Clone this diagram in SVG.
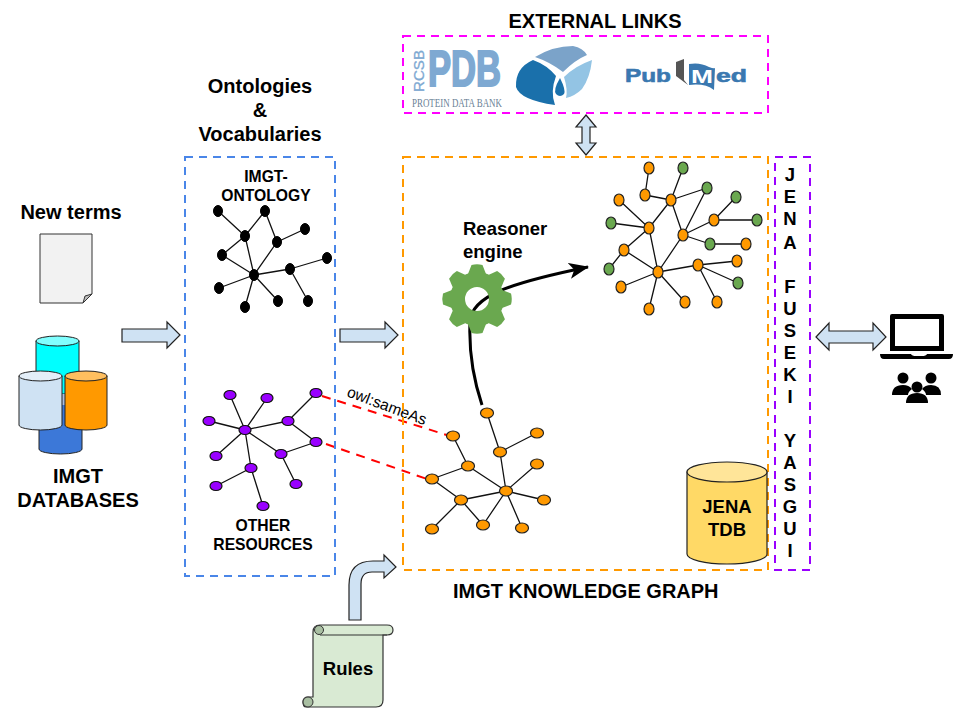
<svg xmlns="http://www.w3.org/2000/svg" width="960" height="720" viewBox="0 0 960 720" xmlns:xlink="http://www.w3.org/1999/xlink">
<style>
text{font-family:"Liberation Sans",Arial,sans-serif;fill:#000}
.b{font-weight:bold;font-size:20px}
.c{font-weight:bold;font-size:18.5px}
.m{text-anchor:middle}
.s{font-weight:bold;font-size:15.7px;text-anchor:middle}
.box{fill:none;stroke-width:2;stroke-dasharray:8 6}
.e{stroke:#111;stroke-width:1.3;fill:none}
.k{fill:#000;stroke:#000;stroke-width:1}
.p{fill:#9900ff;stroke:#111;stroke-width:1.2}
.o{fill:#ff9900;stroke:#222;stroke-width:1.2}
.g{fill:#6aa84f;stroke:#222;stroke-width:1.2}
.ar{fill:#cfe2f3;stroke:#222;stroke-width:1.2}
.gear{fill:#6aa84f}
.pdb{fill:#7ea9d2;stroke:#7ea9d2}
.pm{fill:#3a78b0;stroke:#3a78b0;stroke-width:.6}
</style>
<defs>
<marker id="tip" markerUnits="userSpaceOnUse" markerWidth="22" markerHeight="18" refX="19" refY="8" orient="auto">
<path d="M0,0 L20,8 L0,16 L5,8Z" fill="#000"/>
</marker>
<path id="tooth" d="M-9,-25 L-5.5,-34 Q0,-35.5 5.5,-34 L9,-25Z"/>
</defs>

<g id="connectors">
<g class="e">
<path d="M218,211L245,236M265,211L277,242M245,236L265,211M245,236L222,255M245,236L254,275M277,242L305,229M277,242L254,275M222,255L254,275M290,269L327,258M290,269L254,275M290,269L308,301M254,275L219,288M254,275L245,307M254,275L278,301"/>
<path d="M230,395L245,430M267,398L245,430M316,393L288,421M209,421L245,430M288,421L245,430M288,421L316,442M316,442L281,454M281,454L245,430M281,454L296,484M216,456L245,430M251,468L245,430M251,468L216,486M251,468L263,506"/>
<path d="M487,413L500,452M537,433L500,452M500,452L506,491M453,436L468,466M468,466L432,479M468,466L506,491M432,479L461,500M461,500L506,491M461,500L432,529M461,500L483,525M483,525L506,491M506,491L537,464M506,491L544,500M506,491L522,528"/>
<path d="M649,168L645,195M645,195L671,200M683,168L671,200M671,200L707,188M707,188L683,235M671,200L649,228M671,200L683,235M619,200L649,228M611,223L649,228M649,228L624,250M649,228L658,272M624,250L609,269M624,250L658,272M683,235L658,272M683,235L714,220M714,220L736,197M714,220L757,220M683,235L710,244M710,244L746,244M658,272L621,287M658,272L649,309M658,272L685,302M658,272L698,265M698,265L737,261M698,265L738,283M698,265L717,302"/>
</g>
<path d="M322,396L450,436M326,444L427,479" fill="none" stroke="#ff0000" stroke-width="2" stroke-dasharray="9 7"/>
<path d="M482,405C471,372 469,345 470,322C471,296 510,283 588,267" fill="none" stroke="#000" stroke-width="3" marker-end="url(#tip)"/>
<path class="ar" d="M122,329H167V322L180,335L167,348V342H122Z"/>
<path class="ar" d="M340,329H385V322L398,335L385,348V342H340Z"/>
<path class="ar" d="M586,115L596,127H590V143H596L586,155L576,143H582V127H576Z"/>
<path class="ar" d="M816,337L829,323V331H873V323L886,337L873,350V343H829V350Z"/>
<path class="ar" d="M349,620V585Q349,561 373,561H384V555L396,567L384,578V572H372Q361,572 361,584V620Z"/>
</g>

<g id="external-links">
<rect class="box" x="403" y="36" width="365" height="77" stroke="#ff00ff"/>
<text class="b m" x="595" y="28">EXTERNAL LINKS</text>
<g id="logo-pdb">
<text class="pdb" transform="translate(424 92) rotate(-90)" font-size="15" stroke-width=".3" textLength="42" lengthAdjust="spacingAndGlyphs">RCSB</text>
<text class="pdb" x="428" y="86" font-weight="bold" font-size="50" stroke-width="2" textLength="73" lengthAdjust="spacingAndGlyphs">PDB</text>
<text x="412" y="107" font-size="12" style="font-family:'Liberation Serif',serif;fill:#6a7f95" textLength="90" lengthAdjust="spacingAndGlyphs">PROTEIN DATA BANK</text>
</g>
<g id="logo-mid">
<path fill="#7ba3c9" d="M535,57Q553,46 573,46Q583,48 587,55Q575,60 563,72Q550,62 535,57Z"/>
<path fill="#1a70ab" d="M533,60Q515,68 516,87Q520,100 555,105Q550,92 556,76Q547,65 533,60Z"/>
<path fill="#93c4e4" d="M592,60Q590,78 582,89Q575,96 566,98Q568,90 564,77Q575,66 592,60Z"/>
<path fill="#1a70ab" d="M560,78Q553,90 556,94Q560,98 564,94Q566,90 560,78Z"/>
</g>
<g id="logo-pubmed">
<text class="pm" x="625" y="82" font-weight="bold" font-size="19" textLength="46" lengthAdjust="spacingAndGlyphs">Pub</text>
<path fill="#555" d="M676,62L684,59V80L688,85L676,76Z"/>
<path fill="#3a78b0" d="M689,64Q700,62 709,67Q714,69 715,68L714,90Q705,83 689,85Z"/>
<text x="691" y="83" font-weight="bold" font-size="19" style="fill:#fff" textLength="22" lengthAdjust="spacingAndGlyphs">M</text>
<text class="pm" x="716" y="82" font-weight="bold" font-size="19" textLength="31" lengthAdjust="spacingAndGlyphs">ed</text>
</g>
</g>

<g id="ontologies">
<rect class="box" x="185" y="157" width="150" height="419" stroke="#4a86e8"/>
<text class="b m" x="260" y="93">Ontologies</text>
<text class="b m" x="260" y="117">&amp;</text>
<text class="b m" x="260" y="141">Vocabularies</text>
</g>

<g id="imgt-ontology">
<text class="s" x="266" y="182">IMGT-</text>
<text class="s" x="266" y="201">ONTOLOGY</text>
<g class="k">
<ellipse cx="218" cy="211" rx="4.5" ry="5.5"/><ellipse cx="265" cy="211" rx="4.5" ry="5.5"/><ellipse cx="245" cy="236" rx="4.5" ry="5.5"/><ellipse cx="277" cy="242" rx="4.5" ry="5.5"/><ellipse cx="305" cy="229" rx="4.5" ry="5.5"/><ellipse cx="222" cy="255" rx="4.5" ry="5.5"/><ellipse cx="327" cy="258" rx="4.5" ry="5.5"/><ellipse cx="290" cy="269" rx="4.5" ry="5.5"/><ellipse cx="254" cy="275" rx="4.5" ry="5.5"/><ellipse cx="219" cy="288" rx="4.5" ry="5.5"/><ellipse cx="245" cy="307" rx="4.5" ry="5.5"/><ellipse cx="278" cy="301" rx="4.5" ry="5.5"/><ellipse cx="308" cy="301" rx="4.5" ry="5.5"/>
</g>
</g>

<g id="other-resources">
<text class="s" x="263" y="531">OTHER</text>
<text class="s" x="263" y="550">RESOURCES</text>
<g class="p">
<ellipse cx="230" cy="395" rx="6" ry="4.5"/><ellipse cx="267" cy="398" rx="6" ry="4.5"/><ellipse cx="316" cy="393" rx="6" ry="4.5"/><ellipse cx="209" cy="421" rx="6" ry="4.5"/><ellipse cx="288" cy="421" rx="6" ry="4.5"/><ellipse cx="245" cy="430" rx="6" ry="4.5"/><ellipse cx="316" cy="442" rx="6" ry="4.5"/><ellipse cx="281" cy="454" rx="6" ry="4.5"/><ellipse cx="216" cy="456" rx="6" ry="4.5"/><ellipse cx="251" cy="468" rx="6" ry="4.5"/><ellipse cx="216" cy="486" rx="6" ry="4.5"/><ellipse cx="296" cy="484" rx="6" ry="4.5"/><ellipse cx="263" cy="506" rx="6" ry="4.5"/>
</g>
</g>

<text transform="translate(346 396) rotate(20.5)" font-size="15.5">owl:sameAs</text>

<g id="knowledge-graph">
<rect class="box" x="403" y="157" width="365" height="413" stroke="#ff9900"/>
<text class="b" x="453" y="598">IMGT KNOWLEDGE GRAPH</text>
<g id="graph-lower" class="o">
<ellipse cx="487" cy="413" rx="6.5" ry="5"/><ellipse cx="453" cy="436" rx="6.5" ry="5"/><ellipse cx="537" cy="433" rx="6.5" ry="5"/><ellipse cx="500" cy="452" rx="6.5" ry="5"/><ellipse cx="468" cy="466" rx="6.5" ry="5"/><ellipse cx="537" cy="464" rx="6.5" ry="5"/><ellipse cx="432" cy="479" rx="6.5" ry="5"/><ellipse cx="506" cy="491" rx="6.5" ry="5"/><ellipse cx="461" cy="500" rx="6.5" ry="5"/><ellipse cx="544" cy="500" rx="6.5" ry="5"/><ellipse cx="432" cy="529" rx="6.5" ry="5"/><ellipse cx="483" cy="525" rx="6.5" ry="5"/><ellipse cx="522" cy="528" rx="6.5" ry="5"/>
</g>
<g id="graph-upper">
<g class="o">
<ellipse cx="649" cy="168" rx="5" ry="6"/><ellipse cx="645" cy="195" rx="5" ry="6"/><ellipse cx="671" cy="200" rx="5" ry="6"/><ellipse cx="619" cy="200" rx="5" ry="6"/><ellipse cx="714" cy="220" rx="5" ry="6"/><ellipse cx="649" cy="228" rx="5" ry="6"/><ellipse cx="683" cy="235" rx="5" ry="6"/><ellipse cx="746" cy="244" rx="5" ry="6"/><ellipse cx="624" cy="250" rx="5" ry="6"/><ellipse cx="737" cy="261" rx="5" ry="6"/><ellipse cx="698" cy="265" rx="5" ry="6"/><ellipse cx="658" cy="272" rx="5" ry="6"/><ellipse cx="621" cy="287" rx="5" ry="6"/><ellipse cx="685" cy="302" rx="5" ry="6"/><ellipse cx="717" cy="302" rx="5" ry="6"/><ellipse cx="649" cy="309" rx="5" ry="6"/>
</g>
<g class="g">
<ellipse cx="683" cy="168" rx="5" ry="6"/><ellipse cx="707" cy="188" rx="5" ry="6"/><ellipse cx="736" cy="197" rx="5" ry="6"/><ellipse cx="757" cy="220" rx="5" ry="6"/><ellipse cx="611" cy="223" rx="5" ry="6"/><ellipse cx="710" cy="244" rx="5" ry="6"/><ellipse cx="609" cy="269" rx="5" ry="6"/><ellipse cx="738" cy="283" rx="5" ry="6"/>
</g>
</g>
</g>

<g id="reasoner">
<text class="c" x="463" y="235">Reasoner</text>
<text class="c" x="463" y="258">engine</text>
<g class="gear" transform="translate(477 299)">
<circle r="19.5" fill="none" stroke="#6aa84f" stroke-width="15"/>
<use xlink:href="#tooth" href="#tooth"/>
<use xlink:href="#tooth" href="#tooth" transform="rotate(45)"/>
<use xlink:href="#tooth" href="#tooth" transform="rotate(90)"/>
<use xlink:href="#tooth" href="#tooth" transform="rotate(135)"/>
<use xlink:href="#tooth" href="#tooth" transform="rotate(180)"/>
<use xlink:href="#tooth" href="#tooth" transform="rotate(225)"/>
<use xlink:href="#tooth" href="#tooth" transform="rotate(270)"/>
<use xlink:href="#tooth" href="#tooth" transform="rotate(315)"/>
</g>
</g>

<g id="jena-tdb">
<path d="M687,472V554A40,10 0 0 0 767,554V472Z" fill="#ffd966" stroke="#222" stroke-width="1.2"/>
<ellipse cx="727" cy="472" rx="40" ry="10" fill="#ffe599" stroke="#222" stroke-width="1.2"/>
<text class="c m" x="727" y="513">JENA</text>
<text class="c m" x="727" y="536">TDB</text>
</g>

<g id="fuseki">
<rect class="box" x="775" y="157" width="35" height="413" stroke="#9900ff"/>
<g>
<text class="c m" x="790" y="181">J</text><text class="c m" x="790" y="203">E</text><text class="c m" x="790" y="225">N</text><text class="c m" x="790" y="249">A</text>
<text class="c m" x="790" y="293">F</text><text class="c m" x="790" y="315">U</text><text class="c m" x="790" y="337">S</text><text class="c m" x="790" y="359">E</text><text class="c m" x="790" y="381">K</text><text class="c m" x="790" y="403">I</text>
<text class="c m" x="790" y="447">Y</text><text class="c m" x="790" y="469">A</text><text class="c m" x="790" y="491">S</text><text class="c m" x="790" y="513">G</text><text class="c m" x="790" y="535">U</text><text class="c m" x="790" y="557">I</text>
</g>
</g>

<g id="new-terms">
<text class="b m" x="71" y="219">New terms</text>
<path d="M40,234H92V294L83,303H40Z" fill="#f2f2f2" stroke="#333" stroke-width="1"/>
<path d="M83,303L85,296L92,294Z" fill="#bbb" stroke="#333" stroke-width="1"/>
</g>

<g id="imgt-databases">
<path d="M39,390V449A21.5,5 0 0 0 82,449V390Z" fill="#3c78d8" stroke="#222"/>
<path d="M36,341V394H79V341Z" fill="#00ffff" stroke="#222"/>
<ellipse cx="57.5" cy="341" rx="21.5" ry="5" fill="#80ffff" stroke="#222"/>
<rect x="60" y="394" width="7" height="11" fill="#a8bde0"/>
<path d="M19,376V425A21.5,5 0 0 0 62,425V376Z" fill="#cfe2f3" stroke="#222"/>
<ellipse cx="40.5" cy="376" rx="21.5" ry="5" fill="#e3eef8" stroke="#222"/>
<path d="M65,376V425A21,5 0 0 0 107,425V376Z" fill="#ff9900" stroke="#222"/>
<ellipse cx="86" cy="376" rx="21" ry="5" fill="#ffbf5f" stroke="#222"/>
<text class="b m" x="78" y="483">IMGT</text>
<text class="b m" x="78" y="507">DATABASES</text>
</g>

<g id="rules">
<path d="M313,697V632Q313,625 320,625H387Q393,625 393,630Q393,635 387,635H383V700Q383,707 376,707H306Q303,707 303,702Q303,697 308,697Z" fill="#d9ead3" stroke="#333" stroke-width="1.2"/>
<path d="M320,635H387" fill="none" stroke="#333" stroke-width="1.2"/>
<circle cx="319" cy="630" r="4.5" fill="#a9bfa2" stroke="#333"/>
<circle cx="308" cy="702" r="5" fill="#a9bfa2" stroke="#333"/>
<text class="c m" x="348" y="675">Rules</text>
</g>

<g id="user">
<path fill-rule="evenodd" d="M892,314H942Q944,314 944,316V351H890V316Q890,314 892,314ZM895,319V346H939V319Z"/>
<path d="M880,354H911Q912,356 916,356H922Q926,356 927,354H953Q953,359 949,359H884Q880,359 880,354Z"/>
<circle cx="903" cy="378" r="5.5"/><circle cx="931" cy="378" r="5.5"/><circle cx="917" cy="387" r="5.5"/>
<path d="M892,395Q892,385 903,385Q909,385 912,389Q908,392 908,395Z"/>
<path d="M941,395Q941,385 931,385Q925,385 922,389Q926,392 926,395Z"/>
<path d="M906,403Q906,393 917,393Q928,393 928,403Z"/>
</g>
</svg>
